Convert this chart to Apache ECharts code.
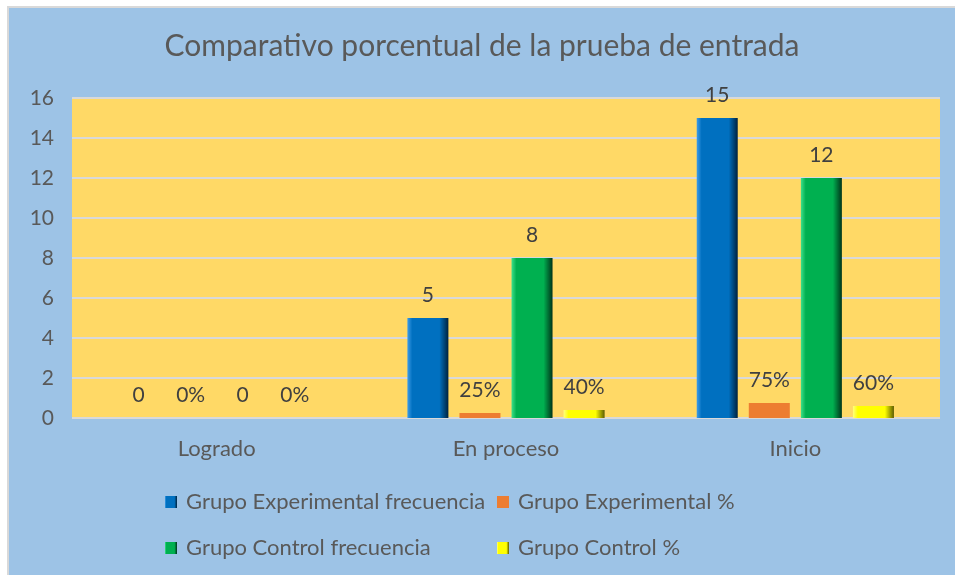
<!DOCTYPE html>
<html lang="es">
<head>
  <meta charset="UTF-8">
  <title>Comparativo porcentual</title>
  <script src="https://cdn.jsdelivr.net/npm/echarts@6/dist/echarts.min.js"></script>
  <style>
    body { margin: 0; background: #fff; }
    #main { position: absolute; left: 7px; top: 6px; width: 946px; height: 567px;
            border-top: 2px solid #d9d9d9; border-left: 2px solid #d9d9d9; }
  </style>
</head>
<body>
<div id="main"></div>
<script type="text/javascript">
  // datos
  var categorias = ['Logrado', 'En proceso', 'Inicio'];
  var expFrecuencia = [0, 5, 15];
  var expPorcentaje = [0, 0.25, 0.75];
  var ctrlFrecuencia = [0, 8, 12];
  var ctrlPorcentaje = [0, 0.40, 0.60];
  var ejeY = { min: 0, max: 16, interval: 2 };

  var fuente = 'Lato';
  var gris = '#595959';
  var tam = 22;

  // degradado horizontal para simular el biselado
  function bisel(claro, base, oscuro) {
    return {
      type: 'linear', x: 0, y: 0, x2: 1, y2: 0,
      colorStops: [
        { offset: 0, color: claro },
        { offset: 0.12, color: base },
        { offset: 0.78, color: base },
        { offset: 1, color: oscuro }
      ]
    };
  }

  function etiqueta(fmt) {
    return {
      show: true, position: 'top', distance: 12,
      fontFamily: fuente, fontSize: 21, color: '#404040',
      formatter: fmt
    };
  }
  var numero = function (p) { return p.value; };
  var pct = function (p) { return Math.round(p.value * 100) + '%'; };

  var leyenda = {
    orient: 'vertical', top: 483, itemGap: 24, padding: 0,
    itemWidth: 12, itemHeight: 12, icon: 'rect',
    textStyle: { fontFamily: fuente, fontSize: tam, color: gris, padding: [0, 0, 0, 4] }
  };

  var myChart = echarts.init(document.getElementById('main'));
  myChart.setOption({
    backgroundColor: '#9DC3E6',
    title: {
      text: 'Comparativo porcentual de la prueba de entrada',
      left: 'center', top: 18,
      textStyle: { fontFamily: fuente, fontSize: 30, fontWeight: 'normal', color: gris }
    },
    legend: [
      Object.assign({}, leyenda, { left: 156, data: ['Grupo Experimental frecuencia', 'Grupo Control frecuencia'] }),
      Object.assign({}, leyenda, { left: 488, data: ['Grupo Experimental %', 'Grupo Control %'] })
    ],
    grid: { left: 63, right: 15, top: 90, bottom: 157, backgroundColor: '#FFD966', show: true, borderWidth: 0 },
    xAxis: {
      type: 'category', data: categorias,
      axisLine: { show: false }, axisTick: { show: false },
      axisLabel: { fontFamily: fuente, fontSize: tam, color: gris, margin: 20 }
    },
    yAxis: {
      type: 'value', min: ejeY.min, max: ejeY.max, interval: ejeY.interval,
      axisLine: { show: false }, axisTick: { show: false },
      axisLabel: { fontFamily: fuente, fontSize: 21, color: gris, margin: 18 },
      splitLine: { lineStyle: { color: '#D9D9D9', width: 2 } }
    },
    series: [{
      name: 'Grupo Experimental frecuencia', type: 'bar', data: expFrecuencia,
      barWidth: 41, barGap: '27%',
      itemStyle: { color: bisel('#3d9be6', '#0070C0', '#00223d') },
      label: etiqueta(numero)
    }, {
      name: 'Grupo Experimental %', type: 'bar', data: expPorcentaje,
      barWidth: 41,
      itemStyle: { color: '#ED7D31' },
      label: etiqueta(pct)
    }, {
      name: 'Grupo Control frecuencia', type: 'bar', data: ctrlFrecuencia,
      barWidth: 41,
      itemStyle: { color: bisel('#3de08a', '#00B050', '#00331a') },
      label: etiqueta(numero)
    }, {
      name: 'Grupo Control %', type: 'bar', data: ctrlPorcentaje,
      barWidth: 41,
      itemStyle: { color: bisel('#ffff80', '#FFFF00', '#5c5c00') },
      label: etiqueta(pct)
    }]
  });
</script>
</body>
</html>
